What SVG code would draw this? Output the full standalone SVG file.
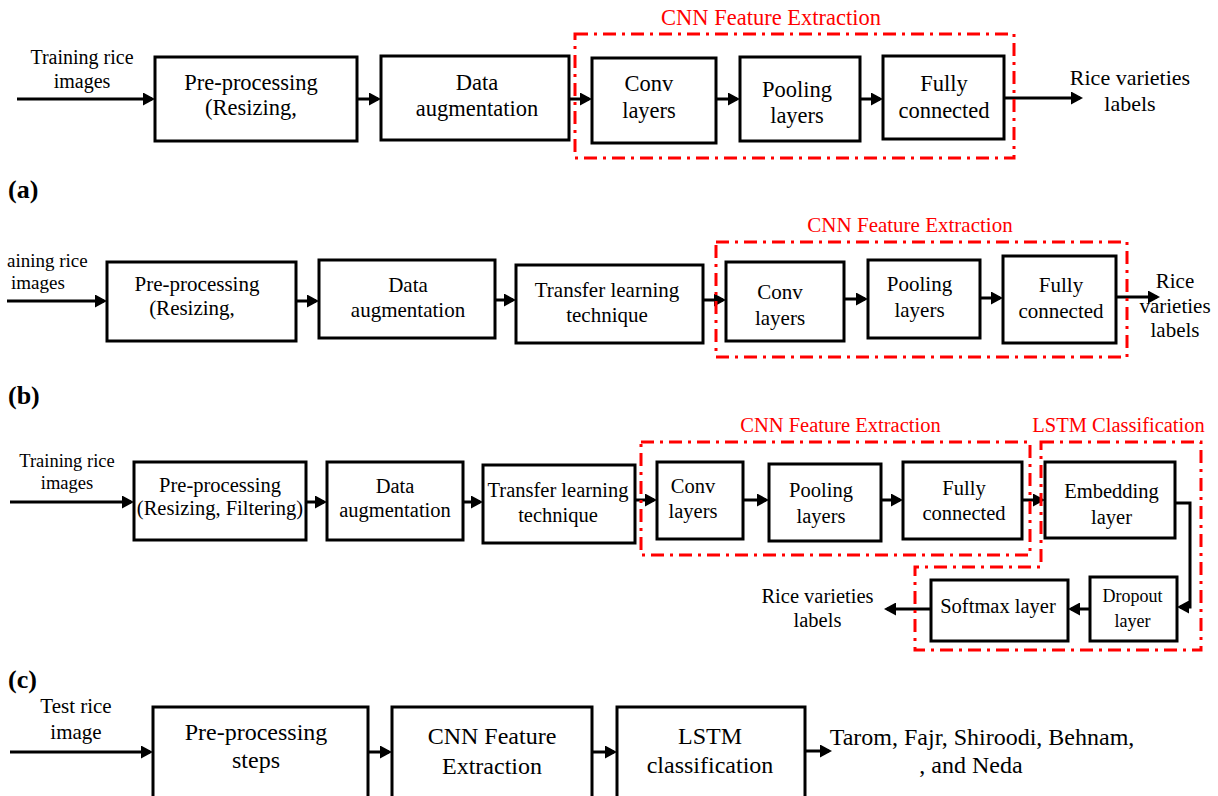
<svg xmlns="http://www.w3.org/2000/svg" width="1218" height="796" viewBox="0 0 1218 796">
<style>
.box{fill:#fff;stroke:#000;stroke-width:3}
.grp{fill:none;stroke:#ff0000;stroke-width:3;stroke-dasharray:13 6 3 6}
text{font-family:"Liberation Serif","Times New Roman",serif;fill:#000;text-anchor:middle}
.red{fill:#ff0000}
.lbl{font-weight:bold;font-size:26px;text-anchor:start}
.st{text-anchor:start}
.a{font-size:22.5px}
.b{font-size:21px}
.c{font-size:20.5px}
.d{font-size:24px}
#connectors line,#connectors path{stroke:#000;stroke-width:3;fill:none;marker-end:url(#ah)}
</style>
<defs>
<marker id="ah" viewBox="0 0 12 13" refX="9" refY="6.5" markerWidth="12" markerHeight="13" markerUnits="userSpaceOnUse" orient="auto">
<path d="M0,0L12,6.5L0,13z" fill="#000"/>
</marker>
</defs>
<rect width="1218" height="796" fill="#fff"/>

<!-- Row (a) -->
<g id="in_a"><text x="82" y="64" font-size="20">Training rice</text><text x="82" y="88" font-size="20">images</text></g>
<g id="pre_a"><rect class="box" x="155" y="57" width="202" height="84"/><text class="a" x="251" y="90">Pre-processing</text><text class="a" x="251" y="115">(Resizing,</text></g>
<g id="aug_a"><rect class="box" x="381" y="56" width="188" height="84"/><text class="a" x="477" y="90">Data</text><text class="a" x="477" y="116">augmentation</text></g>
<g id="conv_a"><rect class="box" x="592" y="58" width="124" height="85"/><text class="a" x="649" y="91">Conv</text><text class="a" x="649" y="118">layers</text></g>
<g id="pool_a"><rect class="box" x="740" y="57" width="120" height="84"/><text class="a" x="797" y="97">Pooling</text><text class="a" x="797" y="123">layers</text></g>
<g id="fc_a"><rect class="box" x="883" y="56" width="121" height="83"/><text class="a" x="944" y="91">Fully</text><text class="a" x="944" y="118">connected</text></g>
<g id="out_a"><text x="1130" y="85" font-size="22">Rice varieties</text><text x="1130" y="111" font-size="22">labels</text></g>
<text class="lbl" x="8" y="198">(a)</text>

<!-- Row (b) -->
<g id="in_b"><text class="st" x="7" y="267" font-size="19">aining rice</text><text class="st" x="11" y="289" font-size="19">images</text></g>
<g id="pre_b"><rect class="box" x="107" y="262" width="189" height="79"/><text class="b" x="197" y="291">Pre-processing</text><text class="b" x="192" y="315">(Resizing,</text></g>
<g id="aug_b"><rect class="box" x="319" y="260" width="176" height="78"/><text class="b" x="408" y="292">Data</text><text class="b" x="408" y="317">augmentation</text></g>
<g id="tl_b"><rect class="box" x="516" y="265" width="187" height="78"/><text class="b" x="607" y="297">Transfer learning</text><text class="b" x="607" y="322">technique</text></g>
<g id="conv_b"><rect class="box" x="726" y="262" width="118" height="79"/><text class="b" x="780" y="299">Conv</text><text class="b" x="780" y="325">layers</text></g>
<g id="pool_b"><rect class="box" x="868" y="260" width="112" height="78"/><text class="b" x="919.5" y="291">Pooling</text><text class="b" x="919.5" y="317">layers</text></g>
<g id="fc_b"><rect class="box" x="1003" y="256" width="113" height="87"/><text class="b" x="1061" y="292">Fully</text><text class="b" x="1061" y="318">connected</text></g>
<g id="out_b"><text class="b" x="1175" y="288">Rice</text><text class="b" x="1175" y="313">varieties</text><text class="b" x="1175" y="337">labels</text></g>
<text class="lbl" x="8" y="404">(b)</text>

<!-- Row (c) -->
<g id="in_c"><text x="67" y="467" font-size="18.5">Training rice</text><text x="67" y="489" font-size="18.5">images</text></g>
<g id="pre_c"><rect class="box" x="134" y="462" width="172" height="78"/><text class="c" x="220" y="492">Pre-processing</text><text class="c" x="220" y="515">(Resizing, Filtering)</text></g>
<g id="aug_c"><rect class="box" x="327" y="462" width="136" height="78"/><text class="c" x="395" y="493">Data</text><text class="c" x="395" y="517">augmentation</text></g>
<g id="tl_c"><rect class="box" x="483" y="465" width="152" height="78"/><text class="c" x="558" y="497">Transfer learning</text><text class="c" x="558" y="522">technique</text></g>
<g id="conv_c"><rect class="box" x="657" y="462" width="86" height="77"/><text class="c" x="693" y="493">Conv</text><text class="c" x="693" y="518">layers</text></g>
<g id="pool_c"><rect class="box" x="769" y="464" width="112" height="77"/><text class="c" x="821" y="497">Pooling</text><text class="c" x="821" y="523">layers</text></g>
<g id="fc_c"><rect class="box" x="903" y="462" width="119" height="77"/><text class="c" x="964" y="495">Fully</text><text class="c" x="964" y="520">connected</text></g>
<g id="emb_c"><rect class="box" x="1045" y="462" width="130" height="76"/><text class="c" x="1111.5" y="498">Embedding</text><text class="c" x="1111.5" y="524">layer</text></g>
<g id="drop_c"><rect class="box" x="1090" y="577" width="87" height="64"/><text x="1132.5" y="602" font-size="18">Dropout</text><text x="1132.5" y="627" font-size="18">layer</text></g>
<g id="soft_c"><rect class="box" x="931" y="580" width="137" height="61"/><text class="c" x="998" y="613">Softmax layer</text></g>
<g id="out_c"><text class="c" x="817.5" y="603">Rice varieties</text><text class="c" x="817.5" y="627">labels</text></g>
<text class="lbl" x="8" y="688">(c)</text>

<!-- Row (d) -->
<g id="in_d"><text x="76" y="713" font-size="21">Test rice</text><text x="76" y="739" font-size="21">image</text></g>
<g id="pre_d"><rect class="box" x="153" y="707" width="215" height="110"/><text class="d" x="256" y="740">Pre-processing</text><text class="d" x="256" y="768">steps</text></g>
<g id="cnn_d"><rect class="box" x="392" y="707" width="200" height="110"/><text class="d" x="492" y="744">CNN Feature</text><text class="d" x="492" y="774">Extraction</text></g>
<g id="lstm_d"><rect class="box" x="617" y="707" width="188" height="110"/><text class="d" x="710" y="744">LSTM</text><text class="d" x="710" y="773">classification</text></g>
<g id="out_d"><text class="d" x="982" y="745">Tarom, Fajr, Shiroodi, Behnam,</text><text class="d" x="971" y="773">, and Neda</text></g>

<g id="connectors">
<line x1="17" y1="99" x2="152" y2="99"/>
<line x1="357" y1="99" x2="378" y2="99"/>
<line x1="569" y1="99" x2="589" y2="99"/>
<line x1="716" y1="99" x2="737" y2="99"/>
<line x1="860" y1="99" x2="880" y2="99"/>
<line x1="1004" y1="98" x2="1080" y2="98"/>

<line x1="7" y1="301" x2="104" y2="301"/>
<line x1="296" y1="301" x2="316" y2="301"/>
<line x1="495" y1="300" x2="513" y2="300"/>
<line x1="703" y1="300" x2="723" y2="300"/>
<line x1="844" y1="299" x2="865" y2="299"/>
<line x1="980" y1="298" x2="1000" y2="298"/>
<line x1="1116" y1="297" x2="1157" y2="297"/>

<line x1="10" y1="502" x2="131" y2="502"/>
<line x1="306" y1="502" x2="324" y2="502"/>
<line x1="463" y1="502" x2="480" y2="502"/>
<line x1="635" y1="500" x2="654" y2="500"/>
<line x1="743" y1="500" x2="766" y2="500"/>
<line x1="881" y1="500" x2="900" y2="500"/>
<line x1="1022" y1="500" x2="1042" y2="500"/>
<path d="M1175,503H1190V607H1180"/>
<line x1="1090" y1="609" x2="1071" y2="609"/>
<line x1="931" y1="609" x2="887" y2="609"/>

<line x1="10" y1="752" x2="150" y2="752"/>
<line x1="368" y1="752" x2="389" y2="752"/>
<line x1="592" y1="752" x2="614" y2="752"/>
<line x1="805" y1="751" x2="829" y2="751"/>
</g>

<g id="group_a"><rect class="grp" x="575" y="34" width="439" height="124"/><text class="red" x="771" y="25" font-size="22.5">CNN Feature Extraction</text></g>
<g id="group_b"><rect class="grp" x="716" y="242" width="411" height="115"/><text class="red" x="910" y="232" font-size="21">CNN Feature Extraction</text></g>
<g id="group_c_cnn"><rect class="grp" x="641" y="442" width="389" height="113"/><text class="red" x="840.5" y="432" font-size="20.5">CNN Feature Extraction</text></g>
<g id="group_c_lstm"><path class="grp" d="M1041,442H1201V650H915V567H1041Z"/><text class="red" x="1118.5" y="432" font-size="20.5">LSTM Classification</text></g>
</svg>
